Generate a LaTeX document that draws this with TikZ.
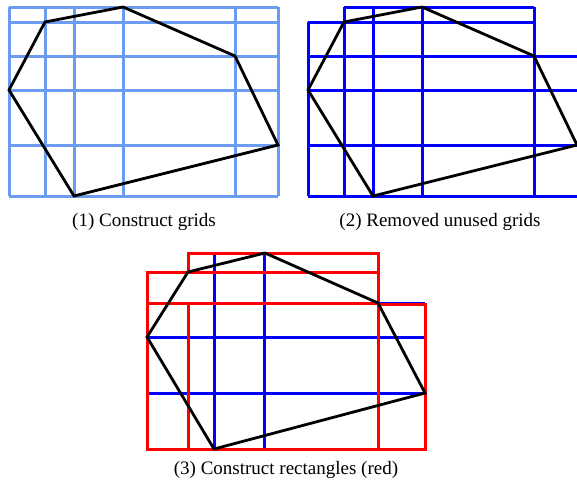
\documentclass[tikz,border=0pt]{standalone}
\usepackage{fontspec}
\setmainfont{Liberation Serif}
\usepackage{xcolor}
\usepackage{tikz}
\usetikzlibrary{positioning}
\definecolor{cLight}{HTML}{6C9CF2}
\definecolor{cBlue}{HTML}{0000FF}
\definecolor{cRed}{HTML}{FF0000}
\definecolor{cPoly}{HTML}{000000}
\tikzset{
  gridln/.style={line width=3pt, cLight},
  keptln/.style={line width=3pt, cBlue},
  rectln/.style={line width=3pt, cRed},
  polyln/.style={line width=2.8pt, cPoly, line join=miter},
  capt/.style={font=\fontsize{19}{22}\selectfont, anchor=base}
}

\begin{document}
\begin{tikzpicture}[x=1pt, y=-1pt]
\useasboundingbox (0,0) rectangle (577,482);
% (1) full grid through every vertex
\foreach \x in {9,45,74,123,235,278} \draw[gridln] (\x,7) -- (\x,196);
\foreach \y in {7,22,56,90,145,196} \draw[gridln] (9,\y) -- (278,\y);
\draw[polyln] (9,90) -- (45,22) -- (123,7) -- (235,56) -- (278,145) -- (74,196) -- cycle;
\node[capt] (capA) at (144,226) {(1) Construct grids};
% (2) grid lines outside the polygon removed
\draw[keptln] (344,7) -- (534,7);
\draw[keptln] (308,22) -- (534,22);
\foreach \y in {56,90,145,196} \draw[keptln] (308,\y) -- (577,\y);
\draw[keptln] (308,22) -- (308,196);
\foreach \x in {344,373,422,534} \draw[keptln] (\x,7) -- (\x,196);
\draw[polyln] (308,90) -- (344,22) -- (422,7) -- (534,56) -- (577,145) -- (373,196) -- cycle;
\node[capt] (capB) at (440,226) {(2) Removed unused grids};
% (3) remaining grid (blue) merged into rectangles (red)
\foreach \y in {337,393} \draw[keptln] (147,\y) -- (425,\y);
\foreach \x in {214,264} \draw[keptln] (\x,253) -- (\x,449);
\draw[keptln] (378,303) -- (425,303);
\draw[rectln] (188,253) rectangle (378,272);
\draw[rectln] (147,272) rectangle (378,303);
\draw[rectln] (147,303) rectangle (188,449);
\draw[rectln] (188,303) rectangle (378,449);
\draw[rectln] (378,304) rectangle (425,449);
\draw[polyln] (147,337) -- (188,272) -- (265,253) -- (378,303) -- (425,393) -- (214,449) -- cycle;
\node[capt] (capC) at (286,474) {(3) Construct rectangles (red)};
\end{tikzpicture}
\end{document}
